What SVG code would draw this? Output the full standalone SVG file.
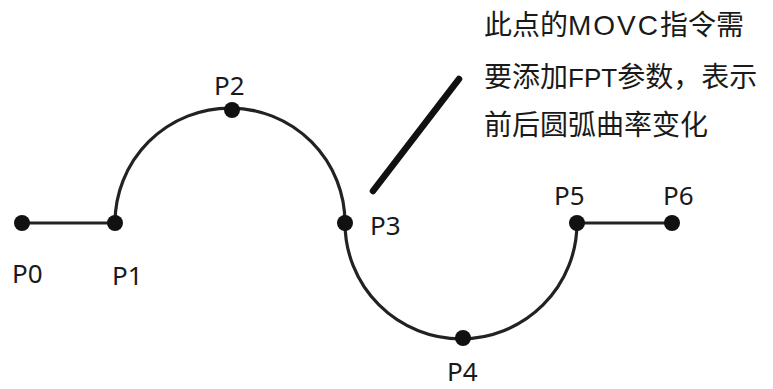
<svg xmlns="http://www.w3.org/2000/svg" width="773" height="389" viewBox="0 0 773 389">
<style>
.path{fill:none;stroke:#222;stroke-width:3.2}
.dot{fill:#111}
.lbl{font-family:"Noto Sans","Liberation Sans",sans-serif;font-size:26px;fill:#1a1a1a}
.note{font-family:"Noto Sans CJK SC","Noto Sans",sans-serif;font-size:28px;fill:#1a1a1a}
.lat{font-family:"Liberation Sans","Noto Sans",sans-serif}
</style>
<rect width="773" height="389" fill="#fff"/>
<g id="connectors">
<path class="path" d="M22 223 H115"/>
<path class="path" d="M115 223 A115 115 0 0 1 345 223"/>
<path class="path" d="M345 223 A116 116 0 0 0 577 223"/>
<path class="path" d="M577 223 H672"/>
<line x1="373" y1="191" x2="459" y2="79" stroke="#111" stroke-width="6.5" stroke-linecap="round"/>
</g>
<g id="P0"><circle class="dot" cx="22" cy="223" r="8"/><text class="lbl" x="12" y="283">P0</text></g>
<g id="P1"><circle class="dot" cx="115" cy="223" r="8"/><text class="lbl" x="112" y="285">P1</text></g>
<g id="P2"><circle class="dot" cx="232" cy="110" r="8"/><text class="lbl" x="214" y="95">P2</text></g>
<g id="P3"><circle class="dot" cx="345" cy="223" r="8"/><text class="lbl" x="370" y="235">P3</text></g>
<g id="P4"><circle class="dot" cx="463" cy="338" r="8"/><text class="lbl" x="447" y="381">P4</text></g>
<g id="P5"><circle class="dot" cx="577" cy="223" r="8"/><text class="lbl" x="554" y="205">P5</text></g>
<g id="P6"><circle class="dot" cx="672" cy="223" r="8"/><text class="lbl" x="663" y="205">P6</text></g>
<g id="note">
<text class="note" x="484" y="35">此点的<tspan class="lat" letter-spacing="2">MOVC</tspan>指令需</text>
<text class="note" x="484" y="87">要添加<tspan class="lat" font-size="26">FPT</tspan>参数，表示</text>
<text class="note" x="484" y="135">前后圆弧曲率变化</text>
</g>
</svg>
